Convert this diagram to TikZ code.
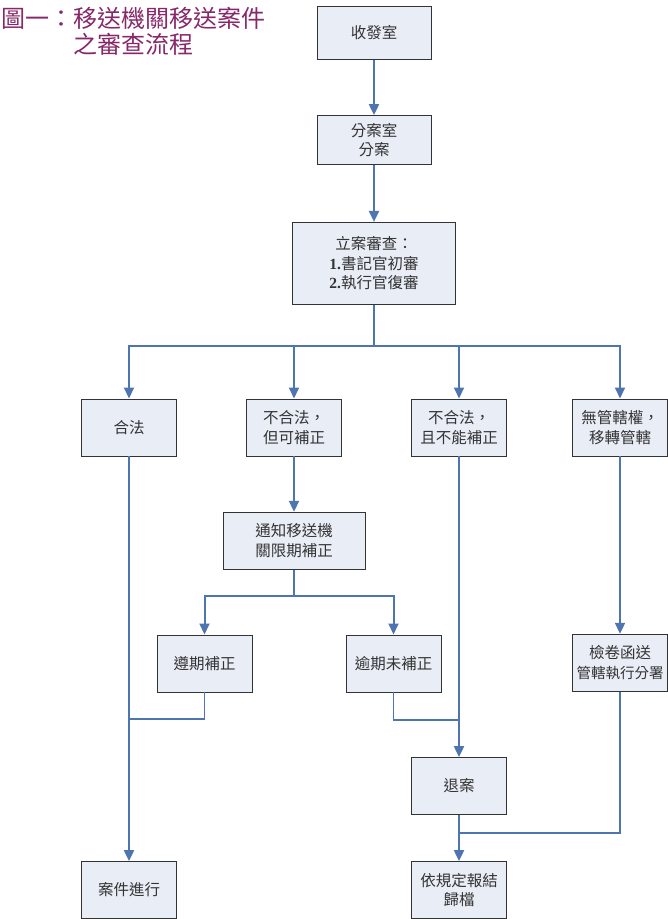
\documentclass[tikz,border=0pt]{standalone}
\usepackage{fontspec}
\setmainfont{Noto Sans CJK TC}
\newfontfamily\numfont{Liberation Serif}
\usetikzlibrary{arrows.meta}
\definecolor{boxfill}{RGB}{233,237,246}
\definecolor{linkblue}{RGB}{79,117,176}
\definecolor{titlered}{RGB}{135,40,105}

\begin{document}
\begin{tikzpicture}
    [x=1pt, y=-1pt,
    box/.style={draw=black!80, line width=0.8pt, fill=boxfill, text=black!80,
        align=center, inner sep=0pt, font=\fontsize{15.5}{19.5}\selectfont},
    small box/.style={box, minimum width=95pt, minimum height=57pt},
    trunk/.style={draw=linkblue, line width=2pt},
    flow/.style={trunk, -{Triangle[length=11pt,width=10pt]}},
    merge/.style={draw=linkblue, line width=1.5pt}]
    \useasboundingbox (0,0) rectangle (668,919);

    % title
    \node [anchor=north west, inner sep=0pt, align=left, text=titlered,
        font=\fontsize{24}{26}\selectfont] (title) at (1,7)
        {圖一：移送機關移送案件\\\hspace*{3em}之審查流程};

    % boxes
    \node [box, minimum width=114pt, minimum height=53pt] (shou) at (374,33) {收發室};
    \node [box, minimum width=114pt, minimum height=49pt] (fen) at (374,140) {分案室\\分案};
    \node [box, minimum width=163pt, minimum height=82pt] (li) at (374,263.3)
        {立案審查：\\{\numfont\bfseries 1.}書記官初審\\{\numfont\bfseries 2.}執行官復審};
    \node [small box] (hefa) at (129,427.4) {合法};
    \node [small box] (bufa) at (294,427.4) {不合法，\\但可補正};
    \node [small box] (buneng) at (459,427.4) {不合法，\\且不能補正};
    \node [small box] (wuguan) at (620,427.4) {無管轄權，\\移轉管轄};
    \node [box, minimum width=142pt, minimum height=57pt] (tongzhi) at (294,540.7)
        {通知移送機\\關限期補正};
    \node [small box] (zunqi) at (204.5,663.4) {遵期補正};
    \node [small box] (yuqi) at (393.5,663.4) {逾期未補正};
    \node [small box] (jianjuan) at (620,662.7)
        {檢卷函送\\{\fontsize{14.5}{19.5}\selectfont 管轄執行分署}};
    \node [small box] (tuian) at (459,786) {退案};
    \node [small box] (anjian) at (129,890) {案件進行};
    \node [small box] (guidang) at (459,890) {依規定報結\\歸檔};

    % split and merge points
    \coordinate (s1) at (374,346);
    \coordinate (s2) at (294,596);
    \coordinate (m1) at (129,719);
    \coordinate (m2) at (459,720);
    \coordinate (m3) at (459,833);

    % connectors
    \draw [flow] (shou) -- (fen);
    \draw [flow] (fen) -- (li);
    \draw [trunk] (li) -- (s1);
    \foreach \n in {hefa,bufa,buneng,wuguan}
        \draw [flow] (s1) -| (\n);
    \draw [flow] (bufa) -- (tongzhi);
    \draw [trunk] (tongzhi) -- (s2);
    \draw [flow] (s2) -| (zunqi);
    \draw [flow] (s2) -| (yuqi);
    \draw [flow] (hefa) -- (anjian);
    \draw [merge] (zunqi) |- (m1);
    \draw [flow] (buneng) -- (tuian);
    \draw [merge] (yuqi) |- (m2);
    \draw [flow] (wuguan) -- (jianjuan);
    \draw [flow] (tuian) -- (guidang);
    \draw [merge] (jianjuan) |- (m3);

\end{tikzpicture}
\end{document}
